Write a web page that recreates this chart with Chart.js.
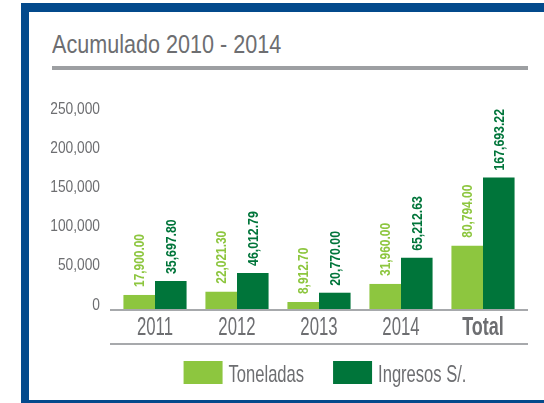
<!DOCTYPE html>
<html lang="es">
<head>
    <meta charset="UTF-8">
    <title>Acumulado 2010 - 2014</title>
    <script src="https://cdn.jsdelivr.net/npm/chart.js"></script>
    <style>
        body {
            margin: 0;
            width: 544px;
            height: 403px;
            background: white;
            position: relative;
            overflow: hidden;
            font-family: 'Liberation Sans', Arial, sans-serif;
        }

        .frame { position: absolute; background: #034a8c; }
        #frameTop { left: 21px; top: 3px; width: 523px; height: 9px; }
        #frameLeft { left: 21px; top: 3px; width: 8px; height: 400px; }
        #frameBottom { left: 21px; top: 400px; width: 523px; height: 3px; }

        #title {
            position: absolute;
            left: 52px;
            top: 31px;
            font-size: 26px;
            line-height: 26px;
            color: #6d6e71;
            white-space: nowrap;
            transform: scaleX(0.83);
            transform-origin: left top;
        }

        #rule {
            position: absolute;
            left: 52px;
            top: 66px;
            width: 476px;
            height: 4px;
            background: #9d9fa2;
        }

        #chart {
            position: absolute;
            left: 30px;
            top: 80px;
        }
    </style>
</head>
<body>
    <div class="frame" id="frameTop"></div>
    <div class="frame" id="frameLeft"></div>
    <div class="frame" id="frameBottom"></div>
    <div id="title">Acumulado 2010 - 2014</div>
    <div id="rule"></div>
    <canvas id="chart" width="514" height="320"></canvas>

    <script>
        const categories = ['2011', '2012', '2013', '2014', 'Total'];
        const toneladas = [17900.00, 22021.30, 8912.70, 31960.00, 80794.00];
        const ingresos = [35697.80, 46012.79, 20770.00, 65212.63, 167693.22];
        const yTicks = [0, 50000, 100000, 150000, 200000, 250000];

        const GRAY = '#6d6e71';
        const LINE = '#a7a9ac';
        const FONT = "'Liberation Sans', Arial, sans-serif";

        // texto angosto: el original usa una tipografia condensada
        function narrowText(ctx, text, x, y, sx, align, rotate) {
            ctx.save();
            ctx.translate(x, y);
            if (rotate) ctx.rotate(-Math.PI / 2);
            ctx.scale(sx, 1);
            ctx.textAlign = align;
            ctx.fillText(text, 0, 0);
            ctx.restore();
        }

        const fmt = v => v.toLocaleString('en-US', { minimumFractionDigits: 2, maximumFractionDigits: 2 });

        const decor = {
            id: 'decor',
            afterDatasetsDraw(chart) {
                const ctx = chart.ctx;
                const area = chart.chartArea;
                const xs = chart.scales.x;
                const ys = chart.scales.y;

                // lineas base
                ctx.save();
                ctx.strokeStyle = LINE;
                ctx.lineWidth = 2;
                ctx.beginPath();
                ctx.moveTo(area.left - 4, area.bottom + 1);
                ctx.lineTo(area.right + 4, area.bottom + 1);
                ctx.moveTo(area.left - 4, area.bottom + 35);
                ctx.lineTo(area.right + 4, area.bottom + 35);
                ctx.stroke();

                // eje y
                ctx.fillStyle = GRAY;
                ctx.textBaseline = 'alphabetic';
                ctx.font = '17px ' + FONT;
                yTicks.forEach(v => {
                    narrowText(ctx, v.toLocaleString('en-US'), area.left - 14, ys.getPixelForValue(v) + 0.5, 0.81, 'right');
                });

                // eje x
                categories.forEach((c, i) => {
                    const bold = c === 'Total';
                    ctx.font = (bold ? 'bold ' : '') + '25px ' + FONT;
                    narrowText(ctx, c, xs.getPixelForValue(i), area.bottom + 26, bold ? 0.72 : 0.67, 'center');
                });

                // etiquetas de valores
                ctx.textBaseline = 'middle';
                chart.data.datasets.forEach((ds, di) => {
                    const meta = chart.getDatasetMeta(di);
                    ctx.fillStyle = ds.backgroundColor;
                    ctx.font = (di === 1 ? 'bold 15px ' : 'bold 14px ') + FONT;
                    meta.data.forEach((bar, i) => {
                        narrowText(ctx, fmt(ds.data[i]), bar.x + 1, bar.y - (di === 1 ? 7 : 8), di === 1 ? 0.82 : 0.85, 'left', true);
                    });
                });

                // leyenda
                ctx.font = '24px ' + FONT;
                ctx.textBaseline = 'alphabetic';
                const boxW = 39, boxH = 23, gapText = 6, gapItem = 29, sx = 0.69;
                const items = chart.data.datasets.map(ds => ({
                    label: ds.label,
                    color: ds.backgroundColor,
                    w: ctx.measureText(ds.label).width * sx
                }));
                let total = 0;
                items.forEach((it, i) => { total += boxW + gapText + it.w + (i ? gapItem : 0); });
                let x = (area.left + area.right) / 2 + 6 - total / 2;
                const top = area.bottom + 52;
                items.forEach(it => {
                    ctx.fillStyle = it.color;
                    ctx.fillRect(x, top, boxW, boxH);
                    ctx.fillStyle = GRAY;
                    narrowText(ctx, it.label, x + boxW + gapText, top + 21, sx, 'left');
                    x += boxW + gapText + it.w + gapItem;
                });
                ctx.restore();
            }
        };

        new Chart(document.getElementById('chart'), {
            type: 'bar',
            data: {
                labels: categories,
                datasets: [{
                    label: 'Toneladas',
                    data: toneladas,
                    backgroundColor: '#8dc63f',
                    categoryPercentage: 0.77,
                    barPercentage: 1.0
                }, {
                    label: 'Ingresos S/.',
                    data: ingresos,
                    backgroundColor: '#00753a',
                    categoryPercentage: 0.77,
                    barPercentage: 1.0
                }]
            },
            options: {
                responsive: false,
                animation: false,
                layout: {
                    padding: { left: 84, right: 20, top: 33, bottom: 91 }
                },
                plugins: {
                    legend: { display: false },
                    tooltip: { enabled: false }
                },
                scales: {
                    x: { display: false },
                    y: { display: false, min: 0, max: 250000 }
                }
            },
            plugins: [decor]
        });
    </script>
</body>
</html>
